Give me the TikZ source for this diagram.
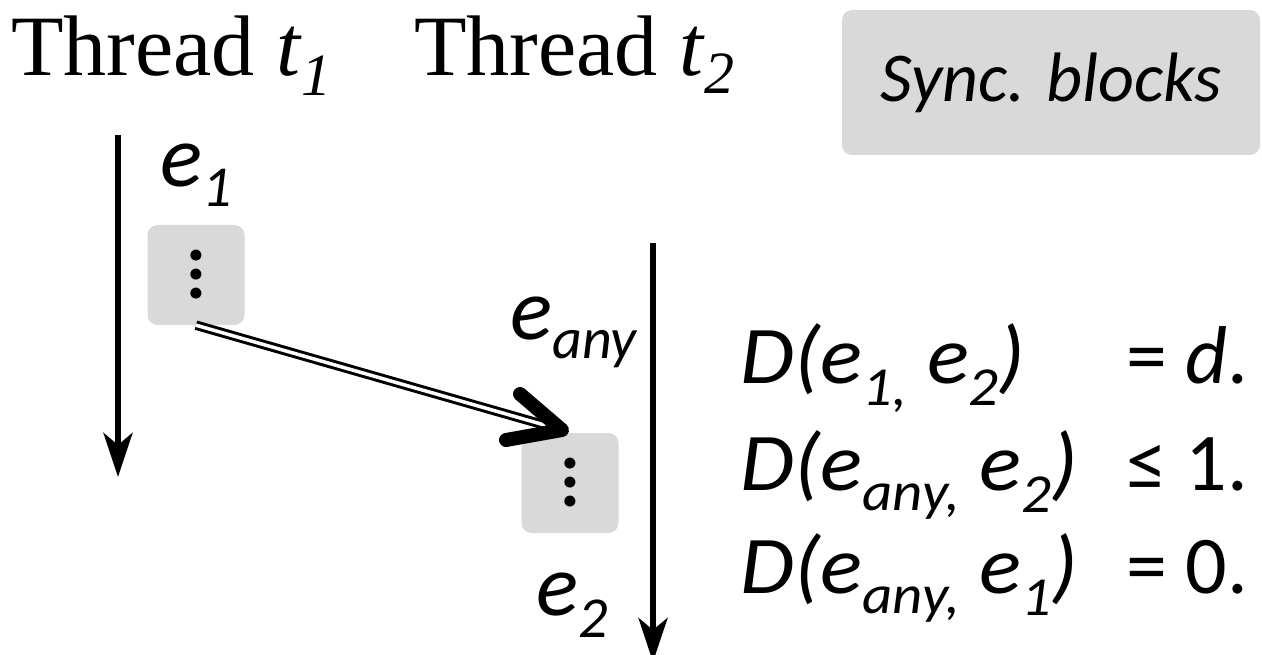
\documentclass[tikz,border=0pt]{standalone}
\usepackage{fontspec}
\setmainfont{Liberation Serif}
\newfontfamily\carl{Carlito}
\usetikzlibrary{arrows.meta,calc}
\definecolor{blockgray}{HTML}{D9D9D9}
\newcommand\lowr[3]{\raisebox{-#3pt}{\fontsize{#2pt}{#2pt}\selectfont #1}}
\newcommand\lhs[1]{\makebox[386pt][l]{\scalebox{1.07}[1]{\itshape #1}}}
\begin{document}
\begin{tikzpicture}[x=1pt,y=-1pt,
  thread/.style={anchor=base west, inner sep=0pt, font=\fontsize{86pt}{86pt}\selectfont},
  lbl/.style={anchor=base west, inner sep=0pt, font=\carl\itshape\fontsize{88pt}{88pt}\selectfont},
  eqn/.style={anchor=base west, inner sep=0pt, font=\carl\fontsize{82pt}{82pt}\selectfont},
  block/.style={fill=blockgray, rounded corners=10pt, minimum width=97pt, minimum height=100pt, inner sep=0pt, align=center, font=\carl\bfseries\fontsize{74pt}{19pt}\selectfont},
  tline/.style={line width=6pt, -{Stealth[length=44pt,width=29pt,inset=12pt]}}
]
\useasboundingbox (0,0) rectangle (1262,655);

% titles
\node[thread] (th1) at (11,76) {Thread \textit{t}\lowr{\textit{1}}{60}{20}};
\node[thread] (th2) at (414,76) {Thread \textit{t}\lowr{\textit{2}}{60}{18}};

% sync box
\node[fill=blockgray, rounded corners=10pt, minimum width=418pt, minimum height=145pt, inner sep=0pt] (sync) at (1051,82.5) {\carl\itshape\fontsize{70pt}{70pt}\selectfont Sync. blocks};

% thread lines
\coordinate (a1) at (118,135);
\coordinate (a1e) at (118,477);
\coordinate (a2) at (653,243);
\coordinate (a2e) at (653,662);
\draw[tline] (a1) -- (a1e);
\draw[tline] (a2) -- (a2e);

% blocks
\node[block] (b1) at (196,275) {.\\.\\.};
\node[block] (b2) at (570,483) {.\\.\\.};

% labels
\node[lbl] (e1) at (160,187) {e\lowr{1}{58}{20}};
\node[lbl] (eany) at (510,340) {e\lowr{any}{58}{18}};
\node[lbl] (e2) at (536,615) {e\lowr{2}{58}{22}};

% sync arrow
\coordinate (tip) at (562,430);
\draw[line width=3pt, double, double distance=3.5pt, shorten >=8pt] (b1.south) -- (tip);
\draw[line width=14pt, line cap=round, line join=round] ($(tip)+(-42,-36)$) -- (tip) -- ($(tip)+(-56,10)$);

% equations
\node[eqn] (q1) at (740,383) {\lhs{D(e\lowr{1,}{55}{22} e\lowr{2}{55}{22})}= \textit{d}.};
\node[eqn] (q2) at (740,490) {\lhs{D(e\lowr{any,}{55}{20} e\lowr{2}{55}{22})}≤ 1.};
\node[eqn] (q3) at (740,593) {\lhs{D(e\lowr{any,}{55}{20} e\lowr{1}{55}{22})}= 0.};
\end{tikzpicture}
\end{document}
